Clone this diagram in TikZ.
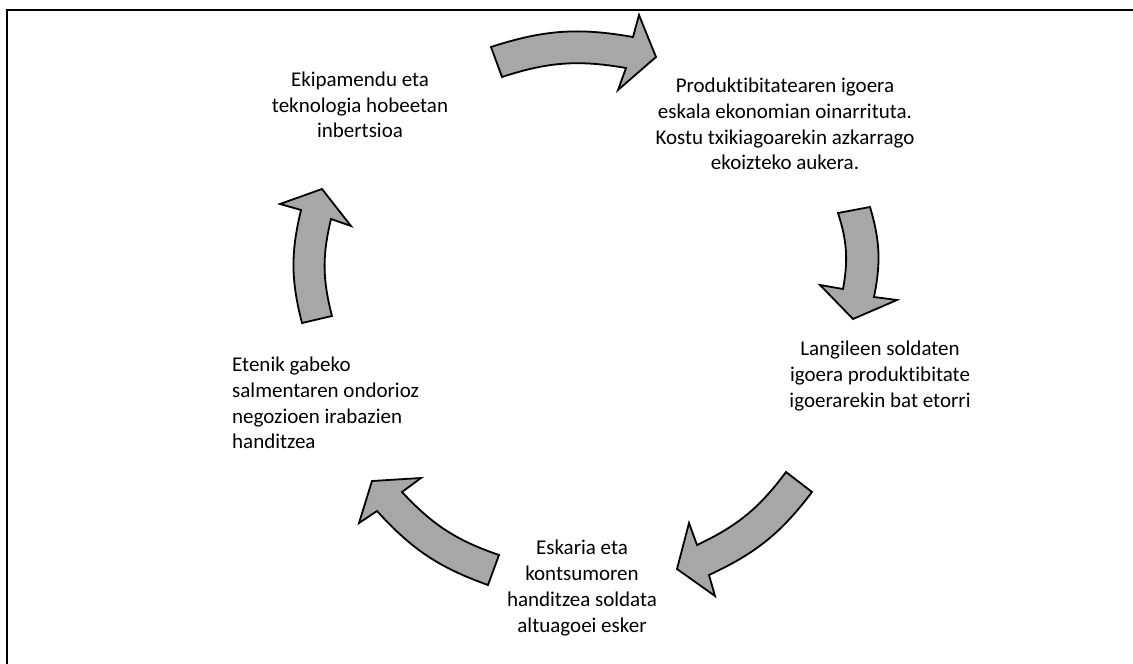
\documentclass[tikz,border=0pt]{standalone}
\usepackage{fontspec}
\setmainfont{Carlito}[Ligatures=NoCommon]
\usepackage{tikz}
\usetikzlibrary{positioning}
\definecolor{arrowgray}{RGB}{168,166,166}
\tikzset{
  stage/.style={font=\fontsize{21}{25.7}\selectfont, align=center, inner sep=0pt},
  blockarrow/.style={draw=black, fill=arrowgray, line width=1.8pt, line join=miter},
  frameline/.style={draw=black, line width=2pt},
}
% tail (outer), body end, barb, tip, barb, body end, tail (inner)
\newcommand{\cyclearrow}[7]{%
  \draw[blockarrow] #1 to[bend left=14] #2 -- #3 -- #4 -- #5 -- #6 to[bend right=14] #7 -- cycle;}

\begin{document}
\begin{tikzpicture}[x=1pt, y=-1pt]
  \useasboundingbox (0,0) rectangle (1133,664);
  \draw[frameline] (1133,10) -- (7,10) -- (7,664);

  \node[stage] (invest) at (360,105) {Ekipamendu eta\\teknologia hobeetan\\inbertsioa};
  \node[stage] (product) at (785,124) {Produktibitatearen igoera\\eskala ekonomian oinarrituta.\\Kostu txikiagoarekin azkarrago\\ekoizteko aukera.};
  \node[stage] (wages) at (880,376) {Langileen soldaten\\igoera produktibitate\\igoerarekin bat etorri};
  \node[stage] (demand) at (582,588) {Eskaria eta\\kontsumoren\\handitzea soldata\\altuagoei esker};
  \node[stage, align=left, anchor=west] (profit) at (232,403) {Etenik gabeko\\salmentaren ondorioz\\negozioen irabazien\\handitzea};

  \cyclearrow{(491,47)}{(633,37)}{(639,15)}{(656,57)}{(618,90)}{(626,68)}{(502,77)}
  \cyclearrow{(870,207)}{(874,297)}{(897,300)}{(853,319)}{(820,285)}{(843,289)}{(838,213)}
  \cyclearrow{(812,492)}{(709,575)}{(715,596)}{(677,569)}{(689,523)}{(697,545)}{(786,472)}
  \cyclearrow{(488,585)}{(377,511)}{(359,523)}{(372,481)}{(421,478)}{(402,492)}{(499,555)}
  \cyclearrow{(302,323)}{(301,210)}{(280,204)}{(322,189)}{(351,226)}{(331,219)}{(332,316)}
\end{tikzpicture}
\end{document}
